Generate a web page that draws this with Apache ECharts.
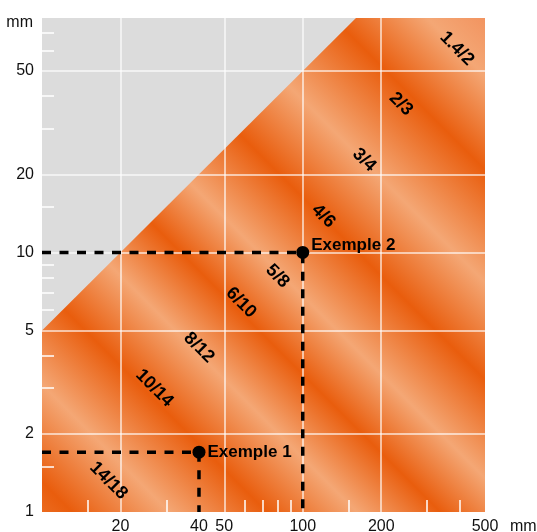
<!DOCTYPE html>
<html>
<head>
<meta charset="utf-8">
<title>Zone d'utilisation</title>
<script src="https://cdn.jsdelivr.net/npm/echarts@6/dist/echarts.min.js"></script>
<style>
  html, body { margin: 0; padding: 0; background: #fff; }
  #chart { width: 537px; height: 532px; }
</style>
</head>
<body>
<div id="chart"></div>
<script>
// axes (mm, log scale)
var xRange = [10, 500];
var yRange = [1, 80];
var xLabels = [20, 40, 50, 100, 200, 500];
var yLabels = [1, 2, 5, 10, 20, 50];
var xGrid = [20, 50, 100, 200];
var yGrid = [2, 5, 10, 20, 50];
var xMinor = [15, 30, 60, 70, 80, 90, 150, 300, 400];
var yMinor = [1.5, 3, 4, 6, 7, 8, 9, 15, 30, 40, 60, 70];

// limit of the usable zone (y = x / 2)
var limitLine = [[10, 5], [160, 80]];

// band names and where they are written
var bandNames = ['14/18', '10/14', '8/12', '6/10', '5/8', '4/6', '3/4', '2/3', '1.4/2'];
var bandX = [18, 27, 40, 58, 80, 120, 172, 238, 390];
var bandY = [1.32, 3.0, 4.3, 6.4, 8.1, 13.8, 22.7, 37.3, 61];

// worked examples
var exampleNames = ['Exemple 1', 'Exemple 2'];
var exampleX = [40, 100];
var exampleY = [1.7, 10];

(function () {
    var FONT = "'Liberation Sans', Arial, sans-serif";
    var DARK = '#e95d0d', LIGHT = '#f4a775';
    // diagonal stripes, position along the bottom-left -> top-right direction
    var stripeStops = [
        [0, '#eb6a1e'], [0.032, DARK], [0.136, LIGHT], [0.240, DARK], [0.336, LIGHT],
        [0.425, DARK], [0.509, LIGHT], [0.614, DARK], [0.718, LIGHT], [0.838, DARK],
        [0.938, LIGHT], [1, '#f29460']
    ];
    var labelOffsets = [[0, 0], [0, -7]];

    var chart = echarts.init(document.getElementById('chart'));

    var renderZone = function (params, api) {
        var bl = api.coord([xRange[0], yRange[0]]);
        var tr = api.coord([xRange[1], yRange[1]]);
        var pts = [
            bl,
            api.coord(limitLine[0]),
            api.coord(limitLine[1]),
            tr,
            api.coord([xRange[1], yRange[0]])
        ];
        var d = ((tr[0] - bl[0]) + (bl[1] - tr[1])) / 2;
        return {
            type: 'polygon',
            shape: { points: pts },
            style: {
                fill: {
                    type: 'linear',
                    x: bl[0], y: bl[1], x2: bl[0] + d, y2: bl[1] - d,
                    global: true,
                    colorStops: stripeStops.map(function (s) {
                        return { offset: s[0], color: s[1] };
                    })
                }
            }
        };
    };

    var gridLines = xGrid.map(function (v) { return { xAxis: v }; })
        .concat(yGrid.map(function (v) { return { yAxis: v }; }));

    var exampleLines = exampleNames.map(function (n, i) {
        return {
            type: 'line',
            name: n,
            z: 6,
            silent: true,
            symbol: 'none',
            animation: false,
            lineStyle: { color: '#000', width: 3.5, type: [9, 8.5], opacity: 1 },
            data: [[xRange[0], exampleY[i]], [exampleX[i], exampleY[i]], [exampleX[i], yRange[0]]]
        };
    });

    var option = {
        animation: false,
        grid: {
            left: 42, right: 52, top: 18, bottom: 20,
            show: true, backgroundColor: '#dcdcdc', borderWidth: 0,
            outerBoundsMode: 'none'
        },
        xAxis: {
            type: 'log', logBase: 10, min: xRange[0], max: xRange[1], z: 10,
            name: 'mm', nameLocation: 'end', nameGap: 25,
            nameTextStyle: { fontSize: 16, color: '#111', fontFamily: FONT, align: 'left', verticalAlign: 'top', padding: [7, 0, 0, 0] },
            axisLine: { show: false },
            splitLine: { show: false },
            minorTick: { show: false },
            axisTick: { show: true, inside: true, length: 12, customValues: xMinor, lineStyle: { color: '#fff', width: 1.5 } },
            axisLabel: {
                customValues: xLabels, fontSize: 16, color: '#111', fontFamily: FONT, margin: 7,
                formatter: function (v) { return String(v); }
            }
        },
        yAxis: {
            type: 'log', logBase: 10, min: yRange[0], max: yRange[1], z: 10,
            name: 'mm', nameLocation: 'end', nameGap: -5,
            nameTextStyle: { fontSize: 16, color: '#111', fontFamily: FONT, align: 'right', verticalAlign: 'middle', padding: [0, 9, 0, 0] },
            axisLine: { show: false },
            splitLine: { show: false },
            minorTick: { show: false },
            axisTick: { show: true, inside: true, length: 12, customValues: yMinor, lineStyle: { color: '#fff', width: 1.5 } },
            axisLabel: {
                customValues: yLabels, fontSize: 16, color: '#111', fontFamily: FONT, margin: 8,
                formatter: function (v) { return String(v); }
            }
        },
        series: [
            {
                type: 'custom',
                name: 'zone',
                z: 1,
                silent: true,
                renderItem: renderZone,
                data: [[xRange[0], yRange[0]]],
                markLine: {
                    z: 5,
                    silent: true,
                    symbol: ['none', 'none'],
                    label: { show: false },
                    lineStyle: { color: 'rgba(255,255,255,0.8)', width: 1.5, type: 'solid' },
                    emphasis: { disabled: true },
                    data: gridLines
                }
            }
        ].concat(exampleLines).concat([
            {
                type: 'scatter',
                name: 'examples',
                z: 7,
                silent: true,
                symbolSize: 13,
                itemStyle: { color: '#000', opacity: 1 },
                label: {
                    show: true, position: 'right', distance: 2,
                    formatter: '{b}', fontSize: 17, fontWeight: 'bold', color: '#000', fontFamily: FONT
                },
                data: exampleNames.map(function (n, i) {
                    return { name: n, value: [exampleX[i], exampleY[i]], label: { offset: labelOffsets[i] } };
                })
            },
            {
                type: 'scatter',
                name: 'bands',
                z: 7,
                silent: true,
                symbolSize: 0,
                itemStyle: { opacity: 1 },
                label: {
                    show: true, position: 'inside', rotate: -45,
                    formatter: '{b}', fontSize: 18, fontWeight: 'bold', color: '#000', fontFamily: FONT
                },
                data: bandNames.map(function (n, i) {
                    return { name: n, value: [bandX[i], bandY[i]] };
                })
            }
        ])
    };

    chart.setOption(option);
})();
</script>
</body>
</html>
